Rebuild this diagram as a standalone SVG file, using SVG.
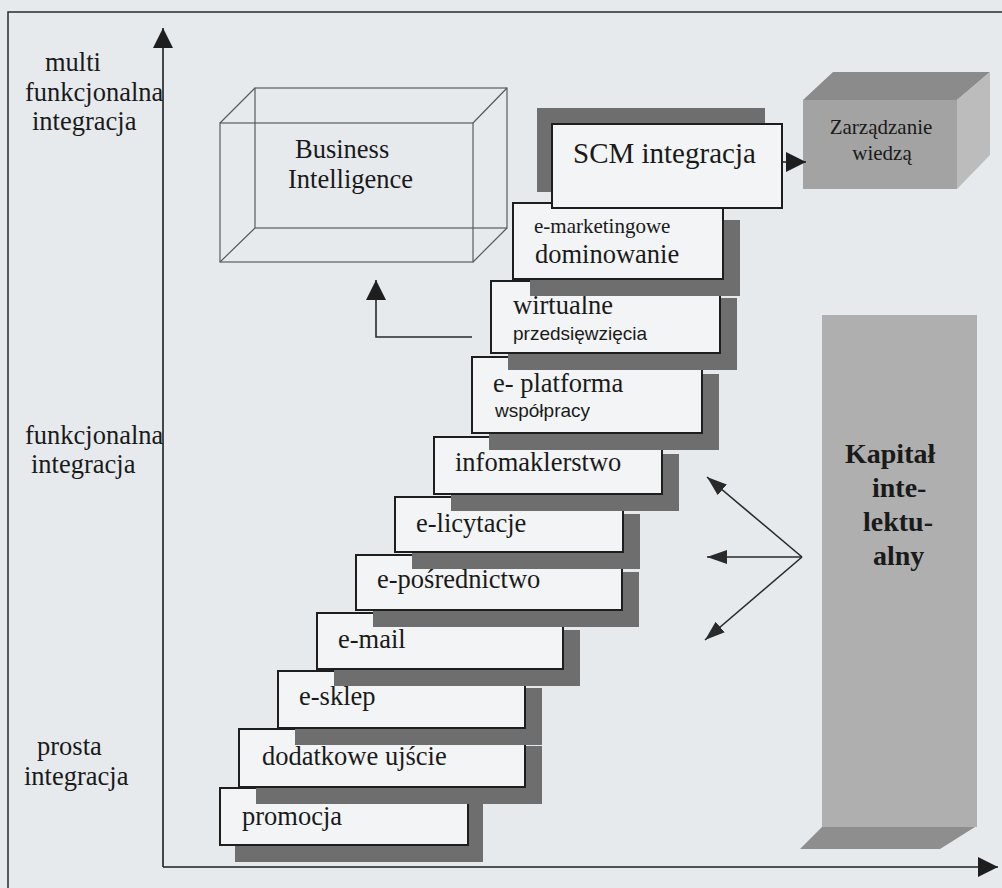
<svg xmlns="http://www.w3.org/2000/svg" width="1002" height="888" viewBox="0 0 1002 888">
<defs>
<style>
.bg{fill:#e6eaed}
.frame{fill:none;stroke:#2a2a2a;stroke-width:1.5}
.axis{fill:none;stroke:#1e1e1e;stroke-width:1.6}
.box{fill:#f2f4f5;stroke:#1e1e1e;stroke-width:2}
.sh{fill:#6e6e6e}
.wire{fill:none;stroke:#5a5a5a;stroke-width:1.2}
.t{font-family:"Liberation Serif","Times New Roman",serif;fill:#1a1a1a;font-size:26.5px}
.ts{font-family:"Liberation Sans",Arial,sans-serif;fill:#1a1a1a;font-size:19px}
.kb{font-family:"Liberation Serif","Times New Roman",serif;fill:#1a1a1a;font-size:28px;font-weight:bold}
.conn{fill:none;stroke:#2a2a2a;stroke-width:1.6}
</style>
<marker id="ahBig" markerUnits="userSpaceOnUse" markerWidth="22" markerHeight="22" refX="20" refY="10" orient="auto">
<path d="M0,0 L20,10 L0,20 z" fill="#1e1e1e"/>
</marker>
<marker id="ahSmall" markerUnits="userSpaceOnUse" markerWidth="22" markerHeight="16" refX="20" refY="7" orient="auto">
<path d="M0,0 L20,7 L0,14 z" fill="#2a2a2a"/>
</marker>
</defs>
<rect class="bg" x="0" y="0" width="1002" height="888"/>
<path class="frame" d="M8,900 V12 H1010"/>

<g id="axes">
<line class="axis" x1="163" y1="867" x2="163" y2="28" marker-end="url(#ahBig)"/>
<line class="axis" x1="163" y1="867" x2="998" y2="867" marker-end="url(#ahBig)"/>
</g>

<g id="axis-labels">
<text class="t" x="45" y="71">multi</text>
<text class="t" x="25" y="101">funkcjonalna</text>
<text class="t" x="32" y="130">integracja</text>
<text class="t" x="25" y="444">funkcjonalna</text>
<text class="t" x="31" y="473">integracja</text>
<text class="t" x="37" y="755">prosta</text>
<text class="t" x="24" y="785">integracja</text>
</g>

<g id="business-intelligence">
<rect class="wire" x="255" y="88" width="252" height="140"/>
<rect class="wire" x="220" y="123" width="253" height="139"/>
<path class="wire" d="M220,123 L255,88 M473,123 L507,88 M220,262 L255,228 M473,262 L507,228"/>
<text class="t" x="295" y="158">Business</text>
<text class="t" x="288" y="188">Intelligence</text>
</g>

<g id="zarzadzanie-wiedza">
<polygon points="803,100 833,72 990,72 957,100" fill="#8b8b8b"/>
<polygon points="957,100 990,72 990,155 957,189" fill="#bcbcbc"/>
<rect x="803" y="100" width="154" height="89" fill="#a3a3a3"/>
<text class="t" x="881" y="134" text-anchor="middle" style="font-size:21px">Zarządzanie</text>
<text class="t" x="882" y="160" text-anchor="middle" style="font-size:21px">wiedzą</text>
</g>

<g id="kapital">
<rect x="822" y="315" width="155" height="512" fill="#afafaf"/>
<polygon points="822,827 975,827 940,849 800,849" fill="#8e8e8e"/>
<text class="kb" x="845" y="463">Kapitał</text>
<text class="kb" x="872" y="497">inte-</text>
<text class="kb" x="863" y="531">lektu-</text>
<text class="kb" x="873" y="565">alny</text>
</g>

<g id="step-promocja">
<rect class="sh" x="235" y="803" width="248" height="59"/>
<rect class="box" x="220" y="788" width="248" height="57"/>
<text class="t" x="242" y="825">promocja</text>
</g>
<g id="step-dodatkowe">
<rect class="sh" x="256" y="746" width="286" height="58"/>
<rect class="box" x="239" y="729" width="286" height="58"/>
<text class="t" x="262" y="765">dodatkowe ujście</text>
</g>
<g id="step-esklep">
<rect class="sh" x="295" y="688" width="247" height="57"/>
<rect class="box" x="278" y="671" width="247" height="57"/>
<text class="t" x="299" y="705">e-sklep</text>
</g>
<g id="step-email">
<rect class="sh" x="334" y="630" width="246" height="56"/>
<rect class="box" x="317" y="613" width="246" height="56"/>
<text class="t" x="338" y="648">e-mail</text>
</g>
<g id="step-eposrednictwo">
<rect class="sh" x="373" y="572" width="266" height="55"/>
<rect class="box" x="356" y="555" width="266" height="55"/>
<text class="t" x="377" y="588">e-pośrednictwo</text>
</g>
<g id="step-elicytacje">
<rect class="sh" x="412" y="514" width="228" height="55"/>
<rect class="box" x="395" y="497" width="228" height="55"/>
<text class="t" x="416" y="532">e-licytacje</text>
</g>
<g id="step-infomaklerstwo">
<rect class="sh" x="451" y="454" width="228" height="57"/>
<rect class="box" x="434" y="437" width="228" height="57"/>
<text class="t" x="455" y="471">infomaklerstwo</text>
</g>
<g id="step-eplatforma">
<rect class="sh" x="489" y="374" width="230" height="76"/>
<rect class="box" x="472" y="357" width="230" height="76"/>
<text class="t" x="493" y="392">e- platforma</text>
<text class="ts" x="495" y="417">współpracy</text>
</g>
<g id="step-wirtualne">
<rect class="sh" x="508" y="298" width="229" height="72"/>
<rect class="box" x="491" y="281" width="229" height="72"/>
<text class="t" x="513" y="314">wirtualne</text>
<text class="ts" x="513" y="340">przedsięwzięcia</text>
</g>
<g id="step-emarketing">
<rect class="sh" x="530" y="220" width="210" height="76"/>
<rect class="box" x="513" y="203" width="210" height="76"/>
<text class="t" x="534" y="233" style="font-size:21px">e-marketingowe</text>
<text class="t" x="535" y="263">dominowanie</text>
</g>
<g id="step-scm">
<rect class="sh" x="537" y="108" width="228" height="84"/>
<rect class="box" x="552" y="124" width="230" height="84"/>
<text class="t" x="573" y="163" style="font-size:29px">SCM integracja</text>
</g>

<g id="connectors">
<path class="conn" d="M472,337 H376 V280" marker-end="url(#ahBig)"/>
<line class="conn" x1="783" y1="162" x2="806" y2="162" marker-end="url(#ahBig)"/>
<line class="conn" x1="802" y1="557" x2="707" y2="477" marker-end="url(#ahSmall)"/>
<line class="conn" x1="802" y1="557" x2="707" y2="557" marker-end="url(#ahSmall)"/>
<line class="conn" x1="802" y1="557" x2="705" y2="640" marker-end="url(#ahSmall)"/>
</g>
</svg>
